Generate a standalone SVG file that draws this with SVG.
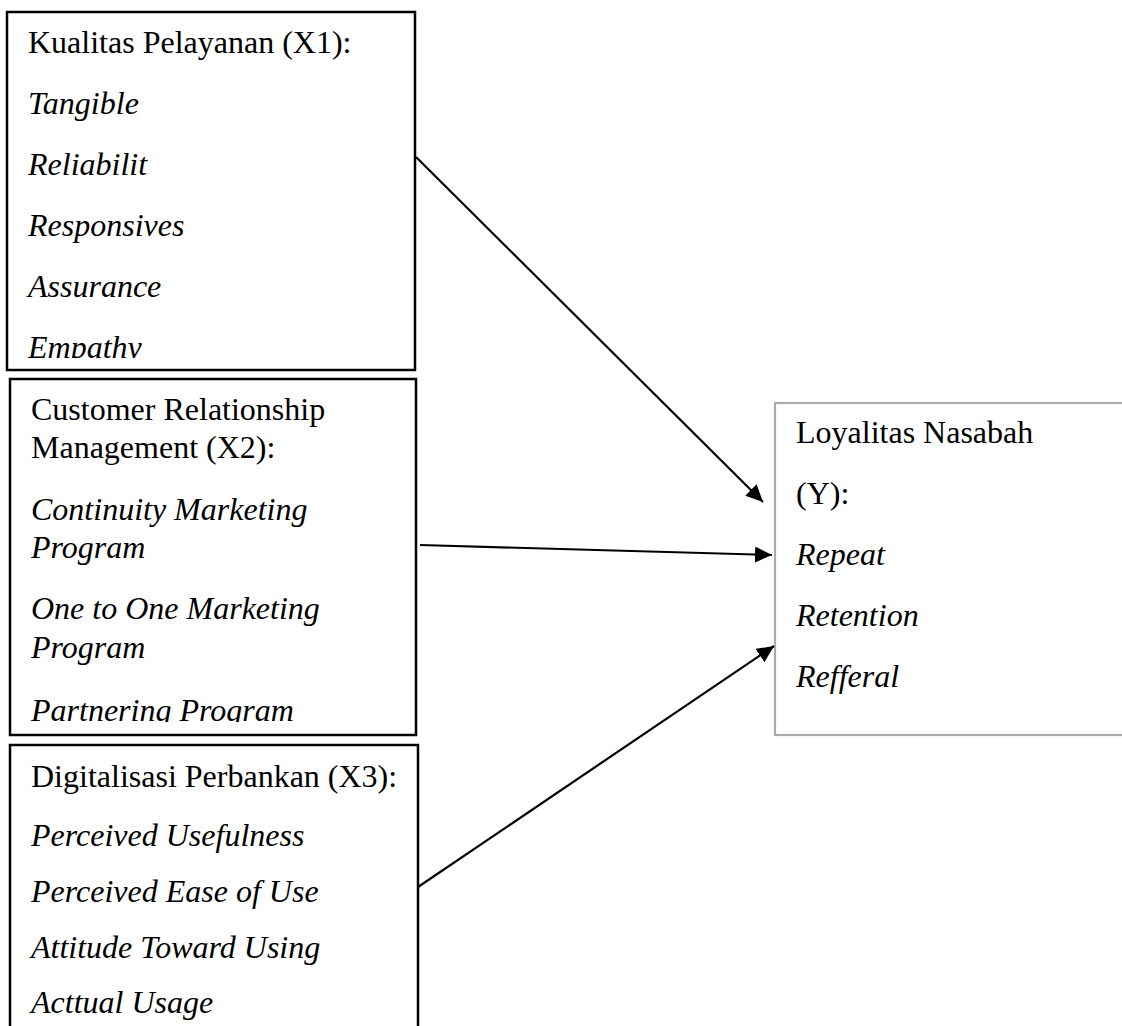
<svg xmlns="http://www.w3.org/2000/svg" width="1122" height="1026" viewBox="0 0 1122 1026">
<style>
.box{fill:#fff;stroke:#000;stroke-width:2.5}
.ybox{fill:#fff;stroke:#ababab;stroke-width:2.2}
text{font-family:"Liberation Serif","Times New Roman",serif;font-size:32px;fill:#000}
.i{font-style:italic}
.conn{stroke:#000;stroke-width:2.2;fill:none}
</style>
<defs>
<marker id="ah" markerUnits="userSpaceOnUse" markerWidth="20" markerHeight="18" refX="17" refY="8" orient="auto">
<path d="M0,0 L17,8 L0,16 z" fill="#000"/>
</marker>
<clipPath id="c1"><rect x="7" y="12" width="408" height="346"/></clipPath>
<clipPath id="c2"><rect x="10" y="379" width="406" height="343"/></clipPath>
<clipPath id="c3"><rect x="10" y="745" width="408" height="290"/></clipPath>
</defs>
<rect width="1122" height="1026" fill="#fff"/>
<g id="x1">
<rect class="box" x="7" y="12" width="408" height="358"/>
<g clip-path="url(#c1)">
<text x="28" y="53">Kualitas Pelayanan (X1):</text>
<text class="i" x="28" y="114">Tangible</text>
<text class="i" x="28" y="175">Reliabilit</text>
<text class="i" x="28" y="236">Responsives</text>
<text class="i" x="28" y="297">Assurance</text>
<text class="i" x="28" y="358">Empathy</text>
</g>
</g>
<g id="x2">
<rect class="box" x="10" y="379" width="406" height="356"/>
<g clip-path="url(#c2)">
<text x="31" y="420">Customer Relationship</text>
<text x="31" y="458">Management (X2):</text>
<text class="i" x="31" y="520">Continuity Marketing</text>
<text class="i" x="31" y="558">Program</text>
<text class="i" x="31" y="619">One to One Marketing</text>
<text class="i" x="31" y="658">Program</text>
<text class="i" x="31" y="721">Partnering Program</text>
</g>
</g>
<g id="x3">
<path class="box" d="M10,1030 L10,745 L418,745 L418,1030"/>
<g clip-path="url(#c3)">
<text x="31" y="787">Digitalisasi Perbankan (X3):</text>
<text class="i" x="31" y="846">Perceived Usefulness</text>
<text class="i" x="31" y="902">Perceived Ease of Use</text>
<text class="i" x="31" y="958">Attitude Toward Using</text>
<text class="i" x="31" y="1013">Acttual Usage</text>
</g>
</g>
<g id="y">
<rect class="ybox" x="775" y="403" width="360" height="332"/>
<text x="796" y="443">Loyalitas Nasabah</text>
<text x="796" y="504">(Y):</text>
<text class="i" x="796" y="565">Repeat</text>
<text class="i" x="796" y="626">Retention</text>
<text class="i" x="796" y="687">Refferal</text>
</g>
<g id="connectors">
<line class="conn" x1="416" y1="157" x2="763" y2="502" marker-end="url(#ah)"/>
<line class="conn" x1="420" y1="545" x2="772" y2="555" marker-end="url(#ah)"/>
<line class="conn" x1="418" y1="887" x2="774" y2="646" marker-end="url(#ah)"/>
</g>
</svg>
